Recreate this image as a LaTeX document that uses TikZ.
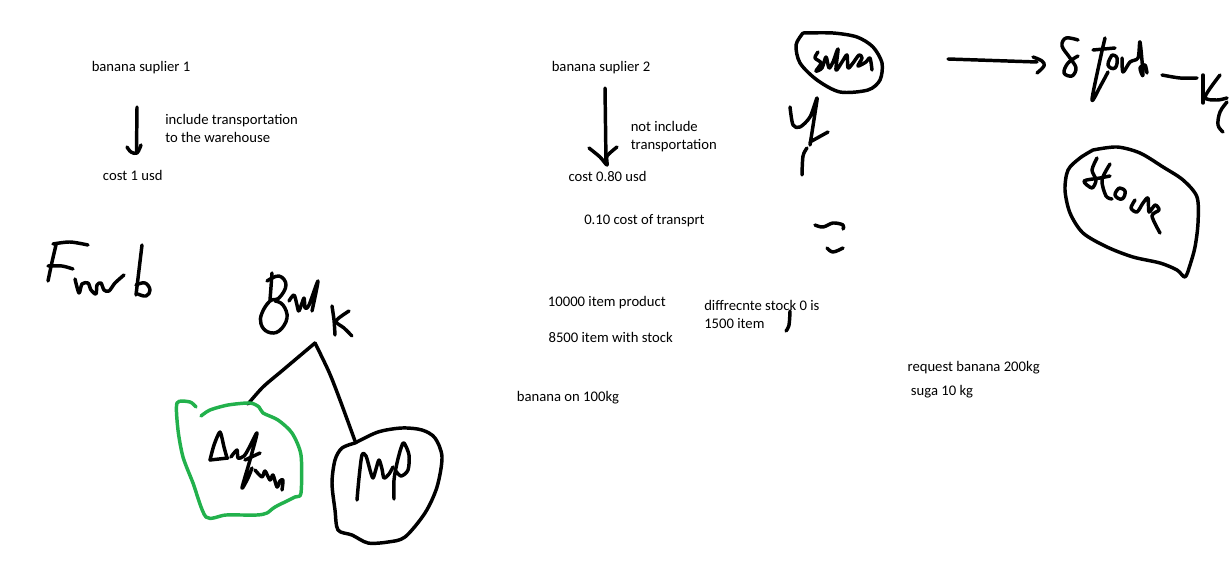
\documentclass[tikz,border=0pt]{standalone}
\usepackage{fontspec}
\setmainfont{Carlito}
\usepackage{tikz}
\definecolor{paintgreen}{RGB}{34,177,76}
\newcommand{\notefont}{\fontsize{11}{13.5}\selectfont}
\tikzset{
    node style note/.style={anchor=base west,inner sep=0pt,font=\notefont},
    line style pen/.style={draw,line width=2.6pt,line cap=round,line join=round},
    line style gpen/.style={line style pen,draw=paintgreen},
}
\begin{document}
\begin{tikzpicture}[x=0.75pt,y=-0.75pt]
\useasboundingbox (0,0) rectangle (1230,566);

% typed notes
\node [node style note] (sup1) at (91.5,71.5) {banana suplier 1};
\node [node style note] (inc1) at (165,125) {include transportation};
\node [node style note] (inc2) at (165,142.7) {to the warehouse};
\node [node style note] (cost1) at (102.7,181) {cost 1 usd};
\node [node style note] (sup2) at (551.5,71.7) {banana suplier 2};
\node [node style note] (ninc1) at (630.5,131.7) {not include};
\node [node style note] (ninc2) at (630.5,149.3) {transportation};
\node [node style note] (cost2) at (568.3,181.7) {cost 0.80 usd};
\node [node style note] (trans) at (584,225) {0.10 cost of transprt};
\node [node style note] (prod) at (547.7,306.7) {10000 item product};
\node [node style note] (withs) at (548.3,342.3) {8500 item with stock};
\node [node style note] (diff1) at (704,310.7) {diffrecnte stock 0 is};
\node [node style note] (diff2) at (704,328.3) {1500 item};
\node [node style note] (onkg) at (516.7,401.7) {banana on 100kg};
\node [node style note] (req) at (907.3,371.7) {request banana 200kg};
\node [node style note] (suga) at (910.7,395) {suga 10 kg};

% hand drawn arrows
\draw [line style pen] (137,107)--(136.5,152);
\draw [line style pen] plot[smooth,tension=0.6] coordinates {(127,147)(131,152)(137,153)(141,145)};
\draw [line style pen] (605,88)--(606,163);
\draw [line style pen] plot[smooth,tension=0.4] coordinates {(589,148)(600,157)(607,165)(607,156)(617,147)};
\draw [line style pen] (948,59)--(1037,62);
\draw [line style pen] plot[smooth,tension=0.6] coordinates {(1033,57)(1042,61)(1044,66)(1037,73)};
\draw [line style pen] plot[smooth,tension=0.6] coordinates {(790,311)(789,325)(786,331)};

% Front
\draw [line style pen] plot[smooth] coordinates {(56,245)(52,262)(48,281)};
\draw [line style pen] plot[smooth] coordinates {(53,244)(70,242)(88,245)};
\draw [line style pen] plot[smooth] coordinates {(48,266)(62,266)(73,269)};
\draw [line style pen] plot[smooth,tension=0.5] coordinates {(75,279)(79,293)(82,284)(88,283)(91,290)(96,294)(97,285)(101,283)(104,290)(109,291)(115,283)(124,275)};
\draw [line style pen] plot[smooth] coordinates {(142,245)(139,270)(136,295)};
\draw [line style pen] plot[smooth,tension=0.7] coordinates {(136,285)(145,283)(150,290)(146,296)(138,294)};

% Back
\draw [line style pen] plot[smooth] coordinates {(272,273)(271,287)(270,300)};
\draw [line style pen] plot[smooth,tension=0.7] coordinates {(267,281)(279,276)(286,285)(279,298)(270,301)(262,313)(261,324)(268,332)(279,331)(287,318)(283,305)(275,301)};
\draw [line style pen] plot[smooth,tension=0.5] coordinates {(289,301)(294,295)(297,305)(299,311)(304,298)(305,308)(309,305)(318,281)(312,311)};
\draw [line style pen] plot[smooth] coordinates {(332,306)(334,320)(335,335)};
\draw [line style pen] plot[smooth,tension=0.5] coordinates {(349,311)(336,321)(344,328)(352,336)};

% branches from Back
\coordinate (top) at (315,343);
\coordinate (lend) at (248,404);
\coordinate (rend) at (355,441);
\draw [line style pen] plot[smooth] coordinates {(top)(283,370)(263,387)(lend)};
\draw [line style pen] plot[smooth] coordinates {(top)(329,372)(340,400)(rend)};

% green blob
\draw [line style gpen] plot[smooth,tension=0.45] coordinates {(196,407)(190,402)(177,403)(178,430)(183,457)(193,483)(206,517)(226,515)(257,515)(267,513)(275,507)(295,497)(301,493)(301,455)(292,433)(278,420)(263,413)(259,407)(250,403)(228,405)(210,410)(201,416)};
\draw [line style pen] plot[smooth,tension=0.4] coordinates {(210,460)(214,445)(220,432)(224,447)(227,458)};
\draw [line style pen] (210,460)--(228,458);
\draw [line style pen] plot[smooth,tension=0.5] coordinates {(231,457)(237,450)(238,458)(244,456)(249,448)(257,433)(250,460)(242,488)(248,478)(252,468)};
\draw [line style pen] (245,460)--(260,453);
\draw [line style pen] plot[smooth,tension=0.5] coordinates {(255,470)(262,477)(265,471)(270,480)(273,475)(277,487)(280,481)(283,480)(282,490)};

% php blob
\draw [line style pen] plot[smooth,tension=0.5] coordinates {(355,443)(342,448)(335,460)(332,483)(335,510)(338,530)(352,535)(368,543)(388,542)(405,537)(425,513)(437,487)(442,457)(435,438)(422,430)(402,428)(378,432)(355,443)};
\draw [line style pen] plot[smooth,tension=0.5] coordinates {(357,500)(359,478)(362,455)(366,456)(370,470)(373,478)(376,469)(379,460)(382,469)(384,478)(389,474)(393,467)};
\draw [line style pen] plot[smooth,tension=0.5] coordinates {(394,499)(394,480)(397,463)(401,448)(404,443)(409,455)(408,470)(401,476)(395,470)};

% sales
\draw [line style pen] plot[smooth,tension=0.5] coordinates {(803,33)(796,45)(800,63)(817,80)(840,92)(868,90)(880,80)(882,63)(873,47)(857,37)(833,33)(803,33)};
\draw [line style pen] plot[smooth,tension=0.5] coordinates {(818,52)(815,58)(821,63)(816,71)(822,68)(826,57)(829,68)(833,62)(838,49)(836,70)(842,62)(847,55)(848,68)(853,63)(859,55)(862,58)(858,66)(866,62)(870,58)(872,70)};

% mark under sales
\draw [line style pen] plot[smooth,tension=0.5] coordinates {(790,107)(793,125)(800,127)(810,117)(817,98)(815,113)(810,145)};
\draw [line style pen] (810,142)--(828,132);
\draw [line style pen] plot[smooth] coordinates {(802,175)(803,156)(807,148)};
\draw [line style pen] plot[smooth,tension=0.6] coordinates {(815,225)(823,227)(833,223)(843,225)(843,229)};
\draw [line style pen] plot[smooth,tension=0.6] coordinates {(827,248)(833,252)(843,248)};

% Stock and Ke
\draw [line style pen] plot[smooth,tension=0.6] coordinates {(1078,40)(1066,38)(1062,46)(1070,58)(1076,68)(1072,76)(1064,73)(1068,63)(1078,56)};
\draw [line style pen] plot[smooth,tension=0.5] coordinates {(1105,38)(1100,60)(1092,100)(1101,85)(1108,72)};
\draw [line style pen] (1093,50)--(1115,48);
\draw [line style pen] plot[smooth,tension=0.8] coordinates {(1112,55)(1108,65)(1115,68)(1117,58)(1112,55)};
\draw [line style pen] plot[smooth,tension=0.5] coordinates {(1122,58)(1123,72)(1130,62)(1138,58)(1140,42)(1143,75)(1140,68)(1145,65)(1147,73)};
\draw [line style pen] plot[smooth] coordinates {(1162,75)(1180,78)(1197,78)};
\draw [line style pen] (1203,75)--(1203,103);
\draw [line style pen] plot[smooth,tension=0.5] coordinates {(1220,75)(1205,97)(1217,100)(1227,98)};
\draw [line style pen] plot[smooth,tension=0.6] coordinates {(1227,102)(1220,112)(1218,125)(1223,132)};

% Stock blob
\draw [line style pen] plot[smooth,tension=0.5] coordinates {(1093,150)(1117,147)(1140,153)(1163,167)(1183,180)(1197,197)(1198,223)(1195,247)(1190,265)(1185,277)(1177,270)(1160,263)(1133,257)(1107,247)(1083,233)(1070,213)(1065,190)(1068,170)(1080,158)(1093,150)};
\draw [line style pen] plot[smooth,tension=0.5] coordinates {(1097,158)(1092,170)(1096,180)(1092,188)(1084,181)(1100,178)(1110,176)};
\draw [line style pen] plot[smooth,tension=0.5] coordinates {(1110,164)(1102,180)(1106,196)(1112,199)};
\draw [line style pen] plot[smooth,tension=0.8] coordinates {(1119,188)(1115,195)(1122,199)(1125,191)(1119,188)};
\draw [line style pen] plot[smooth,tension=0.5] coordinates {(1135,200)(1131,208)(1137,212)(1143,203)(1148,198)(1149,212)(1155,205)(1159,210)(1152,216)(1160,233)};
\end{tikzpicture}
\end{document}
